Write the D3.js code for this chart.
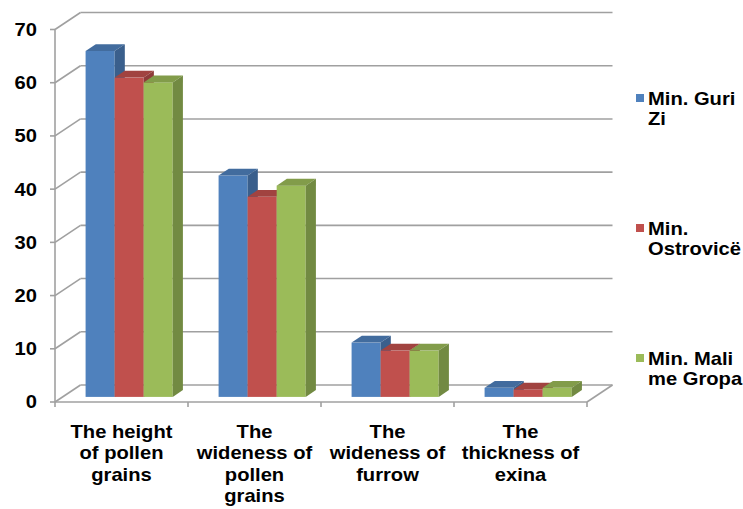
<!DOCTYPE html>
<html>
<head>
<meta charset="utf-8">
<script src="https://cdn.jsdelivr.net/npm/d3@7"></script>
<style>
  body { margin: 0; background: #fff; }
  svg { display: block; }
  text { font-family: "Liberation Sans", Arial, sans-serif; font-weight: bold; fill: #000; }
</style>
</head>
<body>
<svg id="chart" width="743" height="509"></svg>
<script>
// Category labels, one entry per line
const categories = [
  ["The height", "of pollen", "grains"],
  ["The", "wideness of", "pollen", "grains"],
  ["The", "wideness of", "furrow"],
  ["The", "thickness of", "exina"]
];
const seriesNames = ["Min. Guri Zi", "Min. Ostrovicë", "Min. Mali me Gropa"];
const legendLines = [["Min. Guri", "Zi"], ["Min.", "Ostrovicë"], ["Min. Mali", "me Gropa"]];
const guriZi    = [65.0, 41.6, 10.2, 1.7];
const ostrovice = [60.0, 37.6, 8.7, 1.4];
const maliGropa = [59.1, 39.7, 8.7, 1.7];
const yTicks = [0, 10, 20, 30, 40, 50, 60, 70];
const colors = ["#4F81BD", "#C0504D", "#9BBB59"];

const seriesValues = [guriZi, ostrovice, maliGropa];

const svg = d3.select("#chart");
const gridColor = "#a0a0a0";
const stretch = 1.12; // labels are set slightly wide

// Front plane scales; the depth vector moves points towards the back wall
const y = d3.scaleLinear().domain([0, 70]).range([402, 29.5]);
const x = d3.scaleBand().domain(d3.range(categories.length)).range([55, 587]);
const sub = d3.scaleBand().domain(d3.range(seriesNames.length))
  .range([0, x.bandwidth()]).paddingOuter(0.79);
const depth = { dx: 25.5, dy: -17 };
const t0 = 0.3, t1 = 0.7; // bar front/back positions within the depth

const walls = svg.append("g").attr("fill", "none").attr("stroke", gridColor).attr("stroke-width", 1.6);

// back wall gridlines
walls.selectAll("line.grid").data(yTicks).join("line")
  .attr("x1", x.range()[0] + depth.dx).attr("x2", x.range()[1] + depth.dx)
  .attr("y1", d => y(d) + depth.dy).attr("y2", d => y(d) + depth.dy);

// side wall diagonals
walls.selectAll("line.side").data(yTicks).join("line")
  .attr("x1", x.range()[0]).attr("x2", x.range()[0] + depth.dx)
  .attr("y1", d => y(d)).attr("y2", d => y(d) + depth.dy);

// vertical axis and tick marks
walls.append("line")
  .attr("x1", x.range()[0]).attr("x2", x.range()[0])
  .attr("y1", y(0)).attr("y2", y(70));
walls.selectAll("line.ytick").data(yTicks).join("line")
  .attr("x1", x.range()[0] - 5).attr("x2", x.range()[0])
  .attr("y1", d => y(d)).attr("y2", d => y(d));

// floor edges
walls.append("line")
  .attr("x1", x.range()[0]).attr("x2", x.range()[1])
  .attr("y1", y(0)).attr("y2", y(0));
walls.append("line")
  .attr("x1", x.range()[1]).attr("x2", x.range()[1] + depth.dx)
  .attr("y1", y(0)).attr("y2", y(0) + depth.dy);

// category tick marks
const bounds = d3.range(categories.length + 1).map(i => x.range()[0] + i * x.step());
walls.selectAll("line.xtick").data(bounds).join("line")
  .attr("x1", d => d).attr("x2", d => d)
  .attr("y1", y(0)).attr("y2", y(0) + 5);

// y tick labels
svg.append("g").selectAll("text").data(yTicks).join("text")
  .attr("transform", d => `translate(37,${y(d)}) scale(${stretch},1)`)
  .attr("dy", "0.36em")
  .attr("text-anchor", "end").attr("font-size", 18)
  .text(d => d);

// 3D bars
const ddx = (t1 - t0) * depth.dx, ddy = (t1 - t0) * depth.dy;
const bars = [];
seriesValues.forEach((vals, s) => vals.forEach((v, i) => bars.push({ s, i, v })));
bars.sort((a, b) => a.i - b.i || a.s - b.s);

const barG = svg.append("g");
bars.forEach(b => {
  const fx = x(b.i) + sub(b.s) + t0 * depth.dx;
  const w = sub.bandwidth();
  const y0 = y(0) + t0 * depth.dy;
  const yt = y(b.v) + t0 * depth.dy;
  const base = d3.color(colors[b.s]);
  const g = barG.append("g");
  g.append("rect").attr("x", fx).attr("y", yt).attr("width", w).attr("height", y0 - yt)
    .attr("fill", base.formatHex());
  g.append("polygon")
    .attr("points", [[fx, yt], [fx + ddx, yt + ddy], [fx + w + ddx, yt + ddy], [fx + w, yt]].join(" "))
    .attr("fill", base.darker(0.5).formatHex());
  g.append("polygon")
    .attr("points", [[fx + w, yt], [fx + w + ddx, yt + ddy], [fx + w + ddx, y0 + ddy], [fx + w, y0]].join(" "))
    .attr("fill", base.darker(0.85).formatHex());
});

// category labels
const catG = svg.append("g");
categories.forEach((lines, i) => {
  const t = catG.append("text")
    .attr("text-anchor", "middle").attr("font-size", 18)
    .attr("transform", `translate(${x(i) + x.bandwidth() / 2},438) scale(${stretch},1)`);
  lines.forEach((ln, k) => t.append("tspan").attr("x", 0).attr("y", k * 21.5).text(ln));
});

// legend
const legendY = [98, 228, 358];
const leg = svg.append("g");
seriesNames.forEach((name, s) => {
  leg.append("rect").attr("x", 636).attr("y", legendY[s] - 4).attr("width", 8).attr("height", 8)
    .attr("fill", colors[s]);
  const t = leg.append("text").attr("font-size", 18)
    .attr("transform", `translate(648,${legendY[s] + 6.5}) scale(${stretch},1)`);
  legendLines[s].forEach((ln, k) => t.append("tspan").attr("x", 0).attr("y", k * 21).text(ln));
});
</script>
</body>
</html>
